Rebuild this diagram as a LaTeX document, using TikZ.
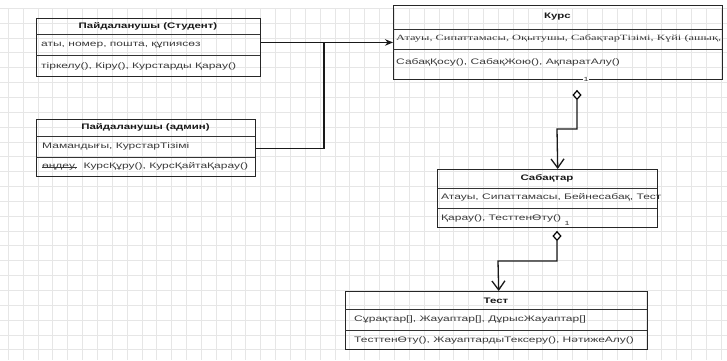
\documentclass[tikz,border=0pt]{standalone}
\usepackage{fontspec}
\setmainfont{Liberation Sans}[FakeStretch=1.5]
\newfontfamily\hdrfont{Liberation Sans Bold}[FakeStretch=1.43]
\newfontfamily\serifk{Liberation Serif}[FakeStretch=1.55]
\usetikzlibrary{arrows.meta,shapes.geometric,calc}
\definecolor{gridc}{HTML}{E6E6E6}
\definecolor{txtc}{HTML}{3A3A3A}
\begin{document}
\begin{tikzpicture}[x=1pt,y=-1pt,
  gridl/.style={draw=gridc,line width=0.9pt},
  umlbox/.style={draw=black!85,line width=1.4pt,anchor=north west,inner sep=0,fill=none},
  divl/.style={draw=black!80,line width=0.9pt},
  hdr/.style={inner sep=0,text=black!90,font=\fontsize{8}{9}\selectfont\hdrfont},
  txt/.style={anchor=west,inner sep=0,text=txtc,font=\fontsize{8}{9}\selectfont},
  stxt/.style={anchor=west,inner sep=0,text=txtc,font=\fontsize{8}{9}\selectfont\serifk},
  conn/.style={draw=black!90,line width=1.3pt},
  agg/.style={draw=black,fill=white,diamond,line width=1.2pt,inner sep=0,minimum width=8pt,minimum height=9pt},
  mult/.style={inner sep=0.6pt,fill=white,text=black!80,font=\fontsize{6}{7}\selectfont}]
\useasboundingbox (0,0) rectangle (727,360);
\fill[white] (0,0) rectangle (727,360);
% grid
\foreach \i in {0,...,48} {\draw[gridl] ({8.3+\i*14.85},8.3) -- ({8.3+\i*14.85},360);}
\foreach \j in {0,...,23} {\draw[gridl] (0,{8.3+\j*14.85}) -- (727,{8.3+\j*14.85});}
% boxes
\node[umlbox,minimum width=224pt,minimum height=58pt] (stu) at (36,18) {};
\draw[divl] (36,34) -- (260,34);
\draw[divl] (36,55.5) -- (260,55.5);
\node[hdr] (stuh) at (148,26) {Пайдаланушы (Студент)};
\node[txt] (stua) at (41,45) {аты, номер, пошта, құпиясөз};
\node[txt] (stum) at (41,66) {тіркелу(), Кіру(), Курстарды Қарау()};

\node[umlbox,minimum width=219pt,minimum height=57pt] (adm) at (36,119) {};
\draw[divl] (36,136) -- (255,136);
\draw[divl] (36,157) -- (255,157);
\node[hdr] (admh) at (145.5,127.5) {Пайдаланушы (админ)};
\node[txt] (adma) at (42,146.5) {Мамандығы, КурстарТізімі};
\node[txt] (admm1) at (42,167) {өңдеу,};
\node[txt,anchor=base west] (admm2) at ($(admm1.base east)+(6,0)$) {КурсҚұру(), КурсҚайтаҚарау()};
\draw[draw=txtc,line width=0.7pt] (admm1.west) -- (admm1.east);

\node[umlbox,minimum width=329pt,minimum height=73.5pt] (kurs) at (393,5) {};
\draw[divl] (393,29) -- (722,29);
\draw[divl] (393,49) -- (722,49);
\node[hdr] (kursh) at (557.5,17) {Курс};
\node[stxt] (kursa) at (396,38.5) {Атауы, Сипаттамасы, Оқытушы, СабақтарТізімі, Күйі (ашық,};
\node[txt] (kursm) at (396,62) {СабақҚосу(), СабақЖою(), АқпаратАлу()};

\node[umlbox,minimum width=220pt,minimum height=58pt] (sab) at (437,169) {};
\draw[divl] (437,188) -- (657,188);
\draw[divl] (437,208) -- (657,208);
\node[hdr] (sabh) at (547,178.5) {Сабақтар};
\node[txt] (saba) at (441,197.5) {Атауы, Сипаттамасы, Бейнесабақ, Тест};
\node[txt] (sabm) at (441,218) {Қарау(), ТесттенӨту()};

\node[umlbox,minimum width=302pt,minimum height=58pt] (test) at (345,291) {};
\draw[divl] (345,309) -- (647,309);
\draw[divl] (345,330) -- (647,330);
\node[hdr] (testh) at (496,300.5) {Тест};
\node[txt] (testa) at (354,319) {Сұрақтар[], Жауаптар[], ДұрысЖауаптар[]};
\node[txt] (testm) at (354,340.5) {ТесттенӨту(), ЖауаптардыТексеру(), НәтижеАлу()};

% connectors
\coordinate (jn) at (324,0 |- kurs.west);
\draw[conn,-{Stealth[length=8pt,width=6.5pt]}] (stu.east |- kurs.west) -- (kurs.west);
\draw[conn] (adm.east) -| (jn);

\node[agg] (d1) at (577,95) {};
\node[mult] (m1) at (586,79.5) {1};
\draw[conn,-{Straight Barb[length=9pt,width=13pt,line width=1.3pt]}] (d1.south) |- (557,129) -- ($(sab.north)+(10,0)$);

\node[agg] (d2) at (557,236) {};
\node[mult] (m2) at (567,223) {1};
\draw[conn,-{Straight Barb[length=9pt,width=13pt,line width=1.3pt]}] (d2.south) |- (498,261) -- ($(test.north)+(2,0)$);
\end{tikzpicture}
\end{document}
